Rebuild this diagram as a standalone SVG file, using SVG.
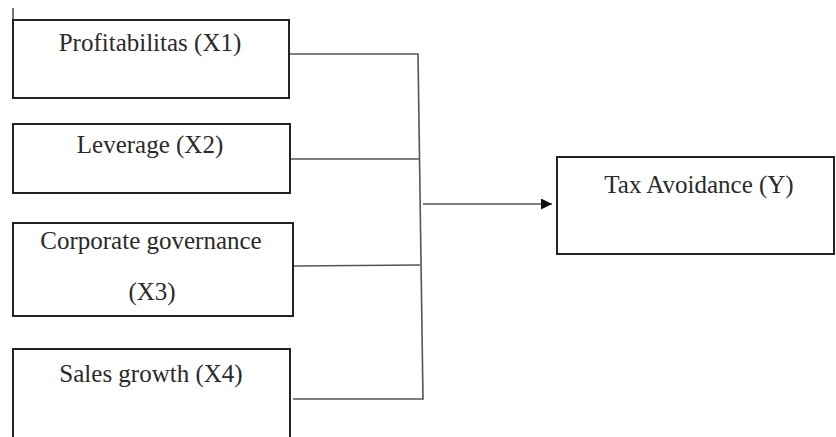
<svg xmlns="http://www.w3.org/2000/svg" width="836" height="437" viewBox="0 0 836 437">
<style>
.box{fill:#fff;stroke:#222;stroke-width:2}
.lbl{font-family:'Liberation Serif','Times New Roman',serif;font-size:25px;fill:#2a2a2a;text-anchor:middle}
.con{fill:none;stroke:#555;stroke-width:1.6}
</style>
<defs>
<marker id="arr" viewBox="0 0 10 10" refX="10" refY="5" markerWidth="11" markerHeight="11" markerUnits="userSpaceOnUse" orient="auto">
<path d="M0,0 L10,5 L0,10 z" fill="#111"/>
</marker>
</defs>
<rect width="836" height="437" fill="#fff"/>
<line x1="13" y1="8" x2="13" y2="20" stroke="#444" stroke-width="1.5"/>
<g id="connectors">
<polyline class="con" points="290,54 418,54 423,399 293,399"/>
<line class="con" x1="290" y1="159" x2="419" y2="159"/>
<line class="con" x1="294" y1="266" x2="420" y2="265"/>
<line class="con" x1="423" y1="204" x2="552" y2="204" marker-end="url(#arr)"/>
</g>
<g id="x1">
<rect class="box" x="13" y="20" width="276" height="78"/>
<text class="lbl" x="150" y="51">Profitabilitas (X1)</text>
</g>
<g id="x2">
<rect class="box" x="13" y="124" width="277" height="69"/>
<text class="lbl" x="150" y="153">Leverage (X2)</text>
</g>
<g id="x3">
<rect class="box" x="13" y="223" width="280" height="93"/>
<text class="lbl" x="151" y="249">Corporate governance</text>
<text class="lbl" x="152" y="300">(X3)</text>
</g>
<g id="x4">
<rect class="box" x="13" y="349" width="277" height="100"/>
<text class="lbl" x="151" y="382">Sales growth (X4)</text>
</g>
<g id="y">
<rect class="box" x="557" y="157" width="277" height="97"/>
<text class="lbl" x="699" y="193">Tax Avoidance (Y)</text>
</g>
</svg>
